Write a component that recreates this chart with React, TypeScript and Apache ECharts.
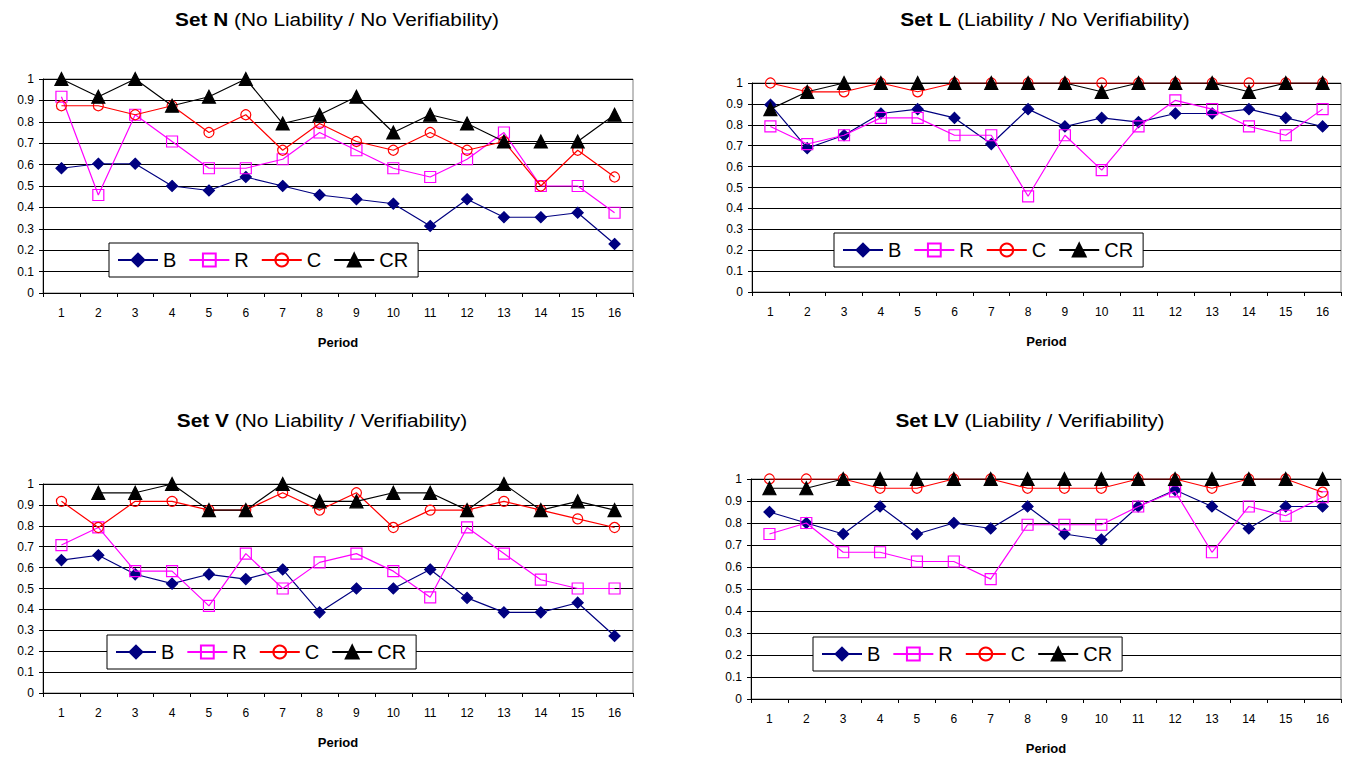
import React, { useEffect, useRef } from "react";
import * as echarts from "echarts";

const FONT = '"Liberation Sans", Arial, Helvetica, sans-serif';

const periods = ["1", "2", "3", "4", "5", "6", "7", "8", "9", "10", "11", "12", "13", "14", "15", "16"];
const seriesNames = ["B", "R", "C", "CR"];

// Set N
const nB = [0.583, 0.604, 0.604, 0.5, 0.479, 0.542, 0.5, 0.458, 0.438, 0.417, 0.313, 0.438, 0.354, 0.354, 0.375, 0.229];
const nR = [0.917, 0.458, 0.833, 0.708, 0.583, 0.583, 0.625, 0.75, 0.667, 0.583, 0.542, 0.625, 0.75, 0.5, 0.5, 0.375];
const nC = [0.875, 0.875, 0.833, 0.875, 0.75, 0.833, 0.667, 0.792, 0.708, 0.667, 0.75, 0.667, 0.708, 0.5, 0.667, 0.542];
const nCR = [1, 0.917, 1, 0.875, 0.917, 1, 0.792, 0.833, 0.917, 0.75, 0.833, 0.792, 0.708, 0.708, 0.708, 0.833];

// Set L
const lB = [0.896, 0.688, 0.75, 0.854, 0.875, 0.833, 0.708, 0.875, 0.792, 0.833, 0.813, 0.854, 0.854, 0.875, 0.833, 0.792];
const lR = [0.792, 0.708, 0.75, 0.833, 0.833, 0.75, 0.75, 0.458, 0.75, 0.583, 0.792, 0.917, 0.875, 0.792, 0.75, 0.875];
const lC = [1, 0.958, 0.958, 1, 0.958, 1, 1, 1, 1, 1, 1, 1, 1, 1, 1, 1];
const lCR = [0.875, 0.958, 1, 1, 1, 1, 1, 1, 1, 0.958, 1, 1, 1, 0.958, 1, 1];

// Set V
const vB = [0.636, 0.659, 0.568, 0.523, 0.568, 0.545, 0.591, 0.386, 0.5, 0.5, 0.591, 0.455, 0.386, 0.386, 0.432, 0.273];
const vR = [0.708, 0.792, 0.583, 0.583, 0.417, 0.667, 0.5, 0.625, 0.667, 0.583, 0.458, 0.792, 0.667, 0.542, 0.5, 0.5];
const vC = [0.917, 0.792, 0.917, 0.917, 0.875, 0.875, 0.958, 0.875, 0.958, 0.792, 0.875, 0.875, 0.917, 0.875, 0.833, 0.792];
const vCR = [null, 0.958, 0.958, 1, 0.875, 0.875, 1, 0.917, 0.917, 0.958, 0.958, 0.875, 1, 0.875, 0.917, 0.875];

// Set LV
const lvB = [0.85, 0.8, 0.75, 0.875, 0.75, 0.8, 0.775, 0.875, 0.75, 0.725, 0.875, 0.95, 0.875, 0.775, 0.875, 0.875];
const lvR = [0.75, 0.8, 0.667, 0.667, 0.625, 0.625, 0.545, 0.792, 0.792, 0.792, 0.875, 0.944, 0.667, 0.875, 0.833, 0.917];
const lvC = [1, 1, 1, 0.958, 0.958, 1, 1, 0.958, 0.958, 0.958, 1, 1, 0.958, 1, 1, 0.94];
const lvCR = [0.958, 0.958, 1, 1, 1, 1, 1, 1, 1, 1, 1, 1, 1, 1, 1, 1];

const panels = [
  {
    bold: "Set N",
    rest: "(No Liability / No Verifiability)",
    tx: 337, ty: 20,
    grid: { left: 43, top: 79, width: 590, height: 214 },
    legend: { left: 109, top: 243 },
    data: [nB, nR, nC, nCR],
  },
  {
    bold: "Set L",
    rest: "(Liability / No Verifiability)",
    tx: 1045, ty: 20,
    grid: { left: 752, top: 83, width: 589, height: 209 },
    legend: { left: 834, top: 233 },
    data: [lB, lR, lC, lCR],
  },
  {
    bold: "Set V",
    rest: "(No Liability / Verifiability)",
    tx: 322, ty: 421,
    grid: { left: 43, top: 484, width: 590, height: 209 },
    legend: { left: 107, top: 635 },
    data: [vB, vR, vC, vCR],
  },
  {
    bold: "Set LV",
    rest: "(Liability / Verifiability)",
    tx: 1030, ty: 421,
    grid: { left: 751, top: 479, width: 590, height: 220 },
    legend: { left: 813, top: 637 },
    data: [lvB, lvR, lvC, lvCR],
  },
];

const seriesStyles = [
  { symbol: "diamond", size: 11, color: "#000080", fill: "#000080" },
  { symbol: "rect", size: 11, color: "#FF00FF", fill: "transparent" },
  { symbol: "circle", size: 10, color: "#FF0000", fill: "transparent" },
  { symbol: "triangle", size: 13, color: "#000000", fill: "#000000" },
];

export default function App() {
  const ref = useRef<HTMLDivElement>(null);

  useEffect(() => {
    if (!ref.current) return;
    const chart = echarts.init(ref.current, undefined, { renderer: "svg" });

    const series: any[] = [];
    panels.forEach((p, i) => {
      p.data.forEach((d, j) => {
        const st = seriesStyles[j];
        series.push({
          type: "line",
          name: seriesNames[j],
          xAxisIndex: i,
          yAxisIndex: i,
          data: d,
          symbol: st.symbol,
          symbolSize: st.size,
          showAllSymbol: true,
          connectNulls: false,
          lineStyle: { color: st.color, width: 1.2 },
          itemStyle: { color: st.fill, borderColor: st.color, borderWidth: 1.2 },
          emphasis: { disabled: true },
          z: 2 + j,
        });
      });
    });

    const option: any = {
      animation: false,
      backgroundColor: "#ffffff",
      textStyle: { fontFamily: FONT },
      graphic: panels.map((p) => ({
        type: "text",
        x: p.tx,
        y: p.ty,
        scaleX: 1.19,
        style: {
          text: `{b|${p.bold}} ${p.rest}`,
          rich: {
            b: { fontWeight: "bold", fontSize: 17.5, fontFamily: FONT, fill: "#000" },
          },
          fontSize: 17.5,
          fontFamily: FONT,
          fill: "#000",
          textAlign: "center",
          textVerticalAlign: "middle",
        },
      })),
      grid: panels.map((p) => ({
        ...p.grid,
        show: true,
        borderColor: "#808080",
        borderWidth: 1,
        backgroundColor: "#ffffff",
        containLabel: false,
      })),
      xAxis: panels.map((p, i) => ({
        type: "category",
        gridIndex: i,
        data: periods,
        boundaryGap: true,
        axisLine: { show: true, lineStyle: { color: "#000", width: 1 } },
        axisTick: { show: true, length: 4, lineStyle: { color: "#000" } },
        axisLabel: { color: "#000", fontSize: 12, fontFamily: FONT, margin: 14, interval: 0 },
        splitLine: { show: false },
        name: "Period",
        nameLocation: "middle",
        nameGap: 43,
        nameTextStyle: { fontWeight: "bold", fontSize: 13, fontFamily: FONT, color: "#000" },
      })),
      yAxis: panels.map((p, i) => ({
        type: "value",
        gridIndex: i,
        min: 0,
        max: 1,
        interval: 0.1,
        axisLine: { show: true, lineStyle: { color: "#000", width: 1 } },
        axisTick: { show: true, length: 4, lineStyle: { color: "#000" } },
        axisLabel: { color: "#000", fontSize: 12, fontFamily: FONT, margin: 9 },
        splitLine: { show: true, lineStyle: { color: "#000", width: 1 } },
      })),
      legend: panels.map((p) => ({
        data: seriesNames,
        left: p.legend.left,
        top: p.legend.top,
        orient: "horizontal",
        backgroundColor: "#ffffff",
        borderColor: "#000000",
        borderWidth: 1,
        borderRadius: 0,
        padding: [7, 10, 7, 8],
        itemWidth: 40,
        itemHeight: 16,
        itemGap: 12,
        selectedMode: false,
        textStyle: { fontSize: 20, fontFamily: FONT, color: "#000", lineHeight: 20 },
      })),
      series,
    };

    chart.setOption(option);
    return () => {
      chart.dispose();
    };
  }, []);

  return (
    <div
      ref={ref}
      style={{ position: "fixed", left: 0, top: 0, width: 1349, height: 759, background: "#fff" }}
    />
  );
}
